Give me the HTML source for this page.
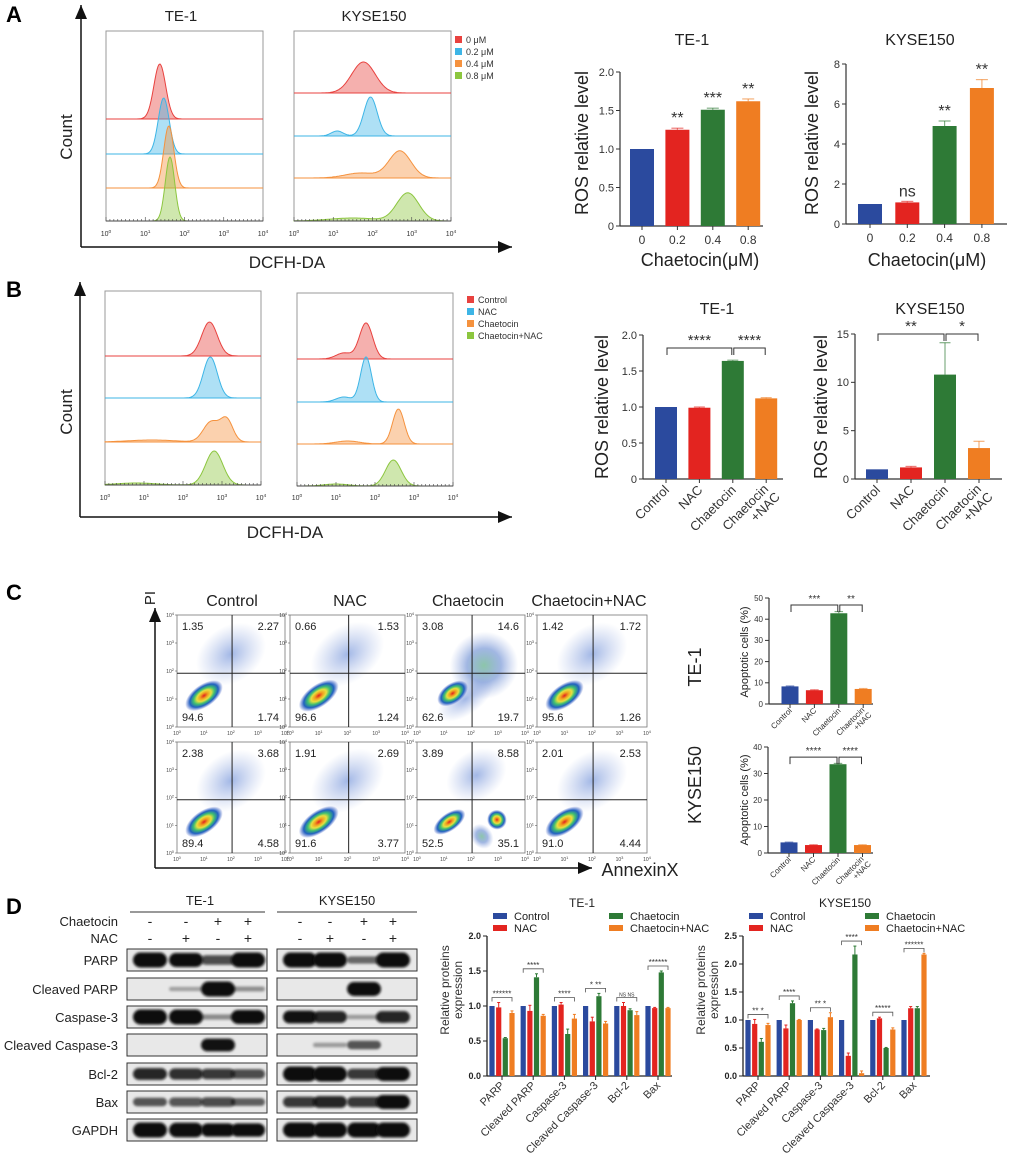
<!DOCTYPE html>
<html><head><meta charset="utf-8">
<style>
html,body{margin:0;padding:0;background:#fff;}
svg{display:block;font-family:"Liberation Sans",Arial,sans-serif;}
</style></head>
<body>
<svg id="fig" width="1020" height="1160" viewBox="0 0 1020 1160" xmlns="http://www.w3.org/2000/svg">
<defs>
<filter id="blur2" x="-20%" y="-50%" width="140%" height="200%"><feGaussianBlur stdDeviation="2"/></filter>
<filter id="blur1" x="-20%" y="-50%" width="140%" height="200%"><feGaussianBlur stdDeviation="1.2"/></filter>
<radialGradient id="dens" cx="50%" cy="50%" r="50%">
<stop offset="0" stop-color="#e02020"/><stop offset="0.2" stop-color="#f0a020"/><stop offset="0.38" stop-color="#e8e040"/><stop offset="0.55" stop-color="#40c070"/><stop offset="0.75" stop-color="#2060c0"/><stop offset="1" stop-color="#3050c0" stop-opacity="0"/>
</radialGradient>
<radialGradient id="cloud" cx="50%" cy="50%" r="50%">
<stop offset="0" stop-color="#3060c8" stop-opacity="0.45"/><stop offset="1" stop-color="#6080d0" stop-opacity="0"/>
</radialGradient>
<radialGradient id="cloudg" cx="50%" cy="50%" r="50%">
<stop offset="0" stop-color="#40a070" stop-opacity="0.6"/><stop offset="0.5" stop-color="#2f5fc0" stop-opacity="0.45"/><stop offset="1" stop-color="#6080d0" stop-opacity="0"/>
</radialGradient>
</defs>
</svg>
<script>
// ---------------- DATA ----------------
const aConc = ['0','0.2','0.4','0.8'];
const aTe1Vals = [1.0, 1.25, 1.51, 1.62];
const aTe1Errs = [0, 0.02, 0.02, 0.03];
const aTe1Sig = ['', '**', '***', '**'];
const aKyVals = [1.0, 1.08, 4.9, 6.8];
const aKyErrs = [0, 0.05, 0.25, 0.42];
const aKySig = ['', 'ns', '**', '**'];

const bCats = ['Control','NAC','Chaetocin','Chaetocin|+NAC'];
const bTe1Vals = [1.0, 0.99, 1.64, 1.12];
const bTe1Errs = [0, 0.01, 0.01, 0.01];
const bKyVals = [1.0, 1.2, 10.8, 3.2];
const bKyErrs = [0, 0.1, 3.3, 0.7];

const cTe1Vals = [8.3, 6.5, 42.8, 7.1];
const cTe1Errs = [0.2, 0.2, 0.8, 0.2];
const cKyVals = [4.0, 3.0, 33.5, 3.0];
const cKyErrs = [0.1, 0.1, 0.3, 0.1];

const dProteins = ['PARP','Cleaved PARP','Caspase-3','Cleaved Caspase-3','Bcl-2','Bax'];
const dSeries = ['Control','NAC','Chaetocin','Chaetocin+NAC'];
const dTe1Control = [1,1,1,1,1,1];
const dTe1Nac = [0.98,0.93,1.02,0.78,1.0,0.97];
const dTe1Chaet = [0.54,1.41,0.6,1.14,0.94,1.48];
const dTe1ChNac = [0.9,0.86,0.82,0.75,0.87,0.97];
const dTe1Errs = [[0,0,0,0,0,0],[0.07,0.08,0.03,0.06,0.05,0.01],[0.01,0.05,0.07,0.04,0.02,0.02],[0.03,0.02,0.06,0.03,0.05,0.01]];
const dTe1Sig = ['******','****','****','* **','NS NS','******'];
const dKyControl = [1,1,1,1,1,1];
const dKyNac = [0.93,0.85,0.83,0.36,1.03,1.21];
const dKyChaet = [0.61,1.3,0.82,2.17,0.5,1.21];
const dKyChNac = [0.91,1.0,1.05,0.05,0.83,2.17];
const dKyErrs = [[0,0,0,0,0,0],[0.08,0.06,0.01,0.05,0.02,0.03],[0.06,0.04,0.03,0.15,0.01,0.03],[0.03,0.01,0.08,0.04,0.03,0.02]];
const dKySig = ['** *','****','** *','****','*****','******'];

const aTe1Peaks = [[[1.37,0.15,55]],[[1.47,0.14,56]],[[1.6,0.13,62]],[[1.63,0.12,64]]];
const aKyPeaks = [[[1.77,0.3,31]],[[1.95,0.17,39],[1.1,0.15,5]],[[2.7,0.28,27],[1.7,0.4,5]],[[2.9,0.28,28],[1.5,0.6,3]]];
const bTe1Peaks = [[[2.68,0.2,34]],[[2.7,0.18,41]],[[2.72,0.2,20],[3.12,0.16,22],[1.2,0.6,2]],[[2.8,0.22,34],[0.8,0.5,2]]];
const bKyPeaks = [[[1.77,0.17,36],[1.2,0.2,6]],[[1.77,0.14,45],[1.2,0.2,5]],[[2.6,0.15,35],[1.3,0.3,3]],[[2.47,0.2,26],[1.0,0.3,2]]];

const cQuadTe1 = [['1.35','2.27','94.6','1.74'],['0.66','1.53','96.6','1.24'],['3.08','14.6','62.6','19.7'],['1.42','1.72','95.6','1.26']];
const cQuadKy = [['2.38','3.68','89.4','4.58'],['1.91','2.69','91.6','3.77'],['3.89','8.58','52.5','35.1'],['2.01','2.53','91.0','4.44']];
const cConds = ['Control','NAC','Chaetocin','Chaetocin+NAC'];

const wbProteins = ['PARP','Cleaved PARP','Caspase-3','Cleaved Caspase-3','Bcl-2','Bax','GAPDH'];
const wbTe1 = [[1,0.9,0.5,1],[0,0.02,1,0.1],[1,1,0.12,0.9],[0,0,0.8,0],[0.7,0.65,0.6,0.5],[0.4,0.45,0.5,0.35],[1,0.95,0.85,0.85]];
const wbKy = [[1,1,0.3,1],[0,0,0.9,0],[0.8,0.7,0.04,0.7],[0,0.05,0.4,0],[1,1,0.6,0.9],[0.6,0.7,0.6,0.9],[1,1,1,1]];
const wbChaet = ['-','-','+','+'];
const wbNac = ['-','+','-','+'];

// ---------------- HELPERS ----------------
const NS='http://www.w3.org/2000/svg';
const svg=document.getElementById('fig');
function mk(tag,attrs,parent){const e=document.createElementNS(NS,tag);for(const k in attrs)e.setAttribute(k,attrs[k]);(parent||svg).appendChild(e);return e;}
function txt(s,x,y,size,anchor,extra,parent){const e=mk('text',Object.assign({x:x,y:y,'font-size':size,'text-anchor':anchor||'middle',fill:'#222'},extra||{}),parent);e.textContent=s;return e;}
function grp(name){const g=mk('g',{});


return g;}
const BAR4=['#2b4a9e','#e32420','#2e7a36','#ef7d22'];
const HIST4=['#e8423f','#3db5e6','#f5923e','#8cc63f'];

[['A',6,22],['B',6,297],['C',6,600],['D',6,914]].forEach(p=>{
  const t=txt(p[0],p[1],p[2],22,'start',{'font-weight':'bold',fill:'#000'});
  
  
});

function arrow(x1,y1,x2,y2,name){
  const g=grp(name);
  mk('line',{x1:x1,y1:y1,x2:x2,y2:y2,stroke:'#111','stroke-width':1.5},g);
  const ang=Math.atan2(y2-y1,x2-x1), L=14, W=6;
  const bx=x2-L*Math.cos(ang), by=y2-L*Math.sin(ang);
  const px=-Math.sin(ang)*W, py=Math.cos(ang)*W;
  mk('polygon',{points:`${x2},${y2} ${bx+px},${by+py} ${bx-px},${by-py}`,fill:'#111'},g);
}

function logTicks(g,left,w,y,size){
  for(let k=0;k<=4;k++){
    const x=left+k*w/4;
    const t=txt('10',x,y,size,'middle',{fill:'#333'},g);
    const s=mk('tspan',{dy:-size*0.4,'font-size':size*0.7},t); s.textContent=k;
  }
}

function histPanel(name,left,top,w,bottom,baselines,peaks,tickY){
  const g=grp(name);
  mk('rect',{x:left,y:top,width:w,height:bottom-top,fill:'none',stroke:'#999','stroke-width':1},g);
  peaks.forEach((pk,i)=>{
    const base=baselines[i];
    let d=`M${left},${base}`;
    for(let px=0;px<=w;px+=1){
      const lv=px/w*4; let h=0;
      pk.forEach(p=>{h+=p[2]*Math.exp(-0.5*Math.pow((lv-p[0])/p[1],2));});
      d+=` L${left+px},${(base-h).toFixed(1)}`;
    }
    d+=` L${left+w},${base} Z`;
    const path=mk('path',{d:d,fill:HIST4[i],'fill-opacity':0.42,stroke:HIST4[i],'stroke-width':1},g);
    
    
  });
  for(let k=0;k<=40;k++){const x=left+k*w/40;mk('line',{x1:x,y1:bottom,x2:x,y2:bottom-(k%10==0?4:2),stroke:'#444','stroke-width':0.6},g);}
  mk('line',{x1:left,y1:bottom,x2:left+w,y2:bottom,stroke:'#444','stroke-width':1},g);
  logTicks(g,left,w,tickY,7);
}

function legend(name,x,y0,dy,labels){
  const g=grp(name);
  labels.forEach((l,i)=>{
    mk('rect',{x:x,y:y0+i*dy-8,width:7,height:7,fill:HIST4[i]},g);
    txt(l,x+11,y0+i*dy-1,9,'start',{fill:'#333'},g);
  });
}

function barChart(o){
  const g=grp(o.name);
  const ys=v=>o.y0-(v/o.max)*(o.y0-o.yTop);
  const xs=i=>o.first+i*o.step;
  mk('line',{x1:o.axX,y1:o.yTop,x2:o.axX,y2:o.y0,stroke:'#333','stroke-width':1.2},g);
  mk('line',{x1:o.axX,y1:o.y0,x2:o.axEnd,y2:o.y0,stroke:'#333','stroke-width':1.2},g);
  o.ticks.forEach((t,k)=>{
    const y=ys(t);
    mk('line',{x1:o.axX-4,y1:y,x2:o.axX,y2:y,stroke:'#333'},g);
    txt(o.tickLabels[k],o.axX-6,y+o.tsize*0.35,o.tsize,'end',{fill:'#333'},g);
  });
  o.vals.forEach((v,i)=>{
    const x=xs(i);
    const r=mk('rect',{x:x-o.bw/2,y:ys(v),width:o.bw,height:o.y0-ys(v),fill:o.colors[i]},g);
    
    
    const e=o.errs[i];
    if(e>0){
      mk('line',{x1:x,y1:ys(v),x2:x,y2:ys(v+e),stroke:o.colors[i],'stroke-width':1.2,'stroke-opacity':0.6},g);
      mk('line',{x1:x-o.bw/4,y1:ys(v+e),x2:x+o.bw/4,y2:ys(v+e),stroke:o.colors[i],'stroke-width':1.2,'stroke-opacity':0.6},g);
    }
    if(o.sig&&o.sig[i]) txt(o.sig[i],x,ys(v+e)-5,o.sigSize,'middle',{fill:'#333'},g);
    mk('line',{x1:x,y1:o.y0,x2:x,y2:o.y0+4,stroke:'#333'},g);
    if(o.catMode==='straight') txt(o.cats[i],x,o.y0+o.csize+6,o.csize,'middle',{fill:'#333'},g);
    else{
      const parts=o.cats[i].split('|');
      const tx=x+o.csize*0.3, ty=o.y0+o.csize*0.9;
      const t=mk('text',{x:tx,y:ty,'font-size':o.csize,'text-anchor':'end',fill:'#333',transform:`rotate(-45 ${tx} ${ty})`},g);
      parts.forEach((p,k)=>{const s=mk('tspan',{x:tx,dy:k==0?(parts.length>1?-o.csize*0.1:0):o.csize*1.05},t);s.textContent=p;});
      if(parts.length>1){t.childNodes[1].setAttribute('x',tx+o.csize*0.2);}
    }
  });
  (o.brackets||[]).forEach(b=>{
    const y=ys(b[2]), x1=xs(b[0]), x2=xs(b[1]);
    mk('path',{d:`M${x1+1},${y+7} V${y} H${x2-1} V${y+7}`,fill:'none',stroke:'#333','stroke-width':1},g);
    txt(b[3],(x1+x2)/2,y-3,o.sigSize,'middle',{fill:'#333'},g);
  });
  return g;
}

// ---------------- PANEL A ----------------
arrow(81,247,81,5,'y-arrow-a');
arrow(81,247,512,247,'x-arrow-a');
{const t=txt('Count',72,137,17,'middle',{transform:'rotate(-90 72 137)'});}
{const t=txt('DCFH-DA',287,268,17);}
{const t=txt('TE-1',181,21,15);}
{const t=txt('KYSE150',374,21,15);}
histPanel('hist-te1-a',106,31,157,221,[119,154,188,221],aTe1Peaks,236);
histPanel('hist-kyse-a',294,31,157,221,[93,136,178,221],aKyPeaks,236);
legend('legend-a',455,44,12,['0 μM','0.2 μM','0.4 μM','0.8 μM']);

barChart({name:'ros-te1-a',axX:620,y0:226,yTop:72,max:2,ticks:[0,0.5,1,1.5,2],tickLabels:['0','0.5','1.0','1.5','2.0'],tsize:11,
  first:642,step:35.4,bw:24,axEnd:763,vals:aTe1Vals,errs:aTe1Errs,colors:BAR4,cats:aConc,catMode:'straight',csize:12,sig:aTe1Sig,sigSize:16});
barChart({name:'ros-kyse-a',axX:846,y0:224,yTop:64,max:8,ticks:[0,2,4,6,8],tickLabels:['0','2','4','6','8'],tsize:11,
  first:870,step:37.3,bw:24,axEnd:1007,vals:aKyVals,errs:aKyErrs,colors:BAR4,cats:aConc,catMode:'straight',csize:12,sig:aKySig,sigSize:16});
[['TE-1',692,45],['KYSE150',920,45]].forEach(p=>{const t=txt(p[0],p[1],p[2],16);});
[['Chaetocin(μM)',700,266],['Chaetocin(μM)',927,266]].forEach(p=>{const t=txt(p[0],p[1],p[2],18);});
[[588,143],[818,143]].forEach(p=>{const t=txt('ROS relative level',p[0],p[1],18,'middle',{transform:`rotate(-90 ${p[0]} ${p[1]})`});});

// ---------------- PANEL B ----------------
arrow(80,517,80,282,'y-arrow-b');
arrow(80,517,512,517,'x-arrow-b');
{const t=txt('Count',72,412,17,'middle',{transform:'rotate(-90 72 412)'});}
{const t=txt('DCFH-DA',285,538,17);}
histPanel('hist-te1-b',105,291,156,485,[356,398,442,485],bTe1Peaks,500);
histPanel('hist-kyse-b',297,293,156,486,[359,402,444,486],bKyPeaks,500);
legend('legend-b',467,304,12,['Control','NAC','Chaetocin','Chaetocin+NAC']);

barChart({name:'ros-te1-b',axX:643,y0:479,yTop:335,max:2,ticks:[0,0.5,1,1.5,2],tickLabels:['0','0.5','1.0','1.5','2.0'],tsize:11,
  first:666,step:33.4,bw:22,axEnd:783,vals:bTe1Vals,errs:bTe1Errs,colors:BAR4,cats:bCats,catMode:'rot',csize:13,sigSize:15,
  brackets:[[0,2,1.82,'****'],[2,3,1.82,'****']]});
barChart({name:'ros-kyse-b',axX:855,y0:479,yTop:334,max:15,ticks:[0,5,10,15],tickLabels:['0','5','10','15'],tsize:11,
  first:877,step:34,bw:22,axEnd:1002,vals:bKyVals,errs:bKyErrs,colors:BAR4,cats:bCats,catMode:'rot',csize:13,sigSize:15,
  brackets:[[0,2,15,'**'],[2,3,15,'*']]});
[['TE-1',717,314],['KYSE150',930,314]].forEach(p=>{const t=txt(p[0],p[1],p[2],16);});
[[608,407],[827,407]].forEach(p=>{const t=txt('ROS relative level',p[0],p[1],18,'middle',{transform:`rotate(-90 ${p[0]} ${p[1]})`});});

// ---------------- PANEL C ----------------
arrow(155,868,155,608,'pi-arrow');
arrow(155,868,592,868,'annexin-arrow');
{const t=txt('PI',155,598,15,'middle',{transform:'rotate(-90 155 598)'});}
{const t=txt('AnnexinX',640,876,18);}
const cColX=[177,290,417,537], cColW=[108,115,108,110], cRowY=[615,742], cRowH=[112,111];
const cTitleX=[232,350,468,589];
cConds.forEach((c,i)=>{const t=txt(c,cTitleX[i],606,16);});
const blobsNormal=[[0.5,0.35,0.35,0.25,'cloud'],[0.25,0.72,0.2,0.1,'dens']];
const blobsChTe=[[0.62,0.45,0.32,0.3,'cloudg'],[0.45,0.75,0.3,0.14,'cloud'],[0.33,0.7,0.16,0.09,'dens']];
const blobsChKy=[[0.55,0.3,0.3,0.22,'cloud'],[0.6,0.85,0.1,0.12,'cloudg'],[0.3,0.72,0.17,0.08,'dens'],[0.74,0.7,0.09,0.09,'dens']];
function scatterPlot(name,x,y,w,h,quads,blobs){
  const g=grp(name);
  mk('rect',{x:x,y:y,width:w,height:h,fill:'#fff',stroke:'#777','stroke-width':0.8},g);
  const clip=mk('clipPath',{id:'clip-'+name},g); mk('rect',{x:x,y:y,width:w,height:h},clip);
  const inner=mk('g',{'clip-path':`url(#clip-${name})`},g);
  blobs.forEach(b=>{
    const cx=x+b[0]*w, cy=y+b[1]*h;
    mk('ellipse',{cx:cx,cy:cy,rx:b[2]*w,ry:b[3]*h,fill:`url(#${b[4]})`,transform:`rotate(-35 ${cx} ${cy})`},inner);
  });
  const vx=x+0.51*w, hy=y+0.52*h;
  mk('line',{x1:vx,y1:y,x2:vx,y2:y+h,stroke:'#222','stroke-width':1},g);
  mk('line',{x1:x,y1:hy,x2:x+w,y2:hy,stroke:'#222','stroke-width':1},g);
  txt(quads[0],x+5,y+15,11,'start',{},g);
  txt(quads[1],x+w-6,y+15,11,'end',{},g);
  txt(quads[2],x+5,y+h-6,11,'start',{},g);
  txt(quads[3],x+w-6,y+h-6,11,'end',{},g);
  for(let k=0;k<=4;k++){
    const ty=y+h-k*h/4;
    const t=txt('10',x-3,ty+2,5,'end',{fill:'#444'},g); const s=mk('tspan',{dy:-2,'font-size':4},t); s.textContent=k;
    mk('line',{x1:x-2,y1:ty,x2:x,y2:ty,stroke:'#444','stroke-width':0.5},g);
  }
  for(let k=0;k<=4;k++){
    const tx=x+k*w/4;
    const t=txt('10',tx,y+h+8,5,'middle',{fill:'#444'},g); const s=mk('tspan',{dy:-2,'font-size':4},t); s.textContent=k;
  }
}
[cQuadTe1,cQuadKy].forEach((rowQ,r)=>{
  rowQ.forEach((q,i)=>{
    const bl = i===2 ? (r===0?blobsChTe:blobsChKy) : blobsNormal;
    scatterPlot('facs-'+(r===0?'te1':'kyse')+'-'+i,cColX[i],cRowY[r],cColW[i],cRowH[r],q,bl);
  });
});
{const t=txt('TE-1',701,667,18,'middle',{transform:'rotate(-90 701 667)'});}
{const t=txt('KYSE150',701,785,18,'middle',{transform:'rotate(-90 701 785)'});}
const cCats=['Control','NAC','Chaetocin','Chaetocin|+NAC'];
barChart({name:'apoptosis-te1',axX:769,y0:704,yTop:598,max:50,ticks:[0,10,20,30,40,50],tickLabels:['0','10','20','30','40','50'],tsize:8,
  first:790,step:24.4,bw:17,axEnd:873,vals:cTe1Vals,errs:cTe1Errs,colors:BAR4,cats:cCats,catMode:'rot',csize:8,sigSize:10,
  brackets:[[0,2,46.7,'***'],[2,3,46.7,'**']]});
barChart({name:'apoptosis-kyse',axX:768,y0:853,yTop:747,max:40,ticks:[0,10,20,30,40],tickLabels:['0','10','20','30','40'],tsize:8,
  first:789,step:24.5,bw:17,axEnd:873,vals:cKyVals,errs:cKyErrs,colors:BAR4,cats:cCats,catMode:'rot',csize:8,sigSize:10,
  brackets:[[0,2,36.2,'****'],[2,3,36.2,'****']]});
[[748,652],[748,800]].forEach(p=>{const t=txt('Apoptotic cells (%)',p[0],p[1],11,'middle',{transform:`rotate(-90 ${p[0]} ${p[1]})`});});

// ---------------- PANEL D: western blot ----------------
{
  const g=grp('western-blot');
  const lanesTe=[150,186,218,248], lanesKy=[300,330,364,393];
  const rowsY=[949,978,1006,1034,1063,1091,1119];
  txt('TE-1',200,905,13,'middle',{},g); mk('line',{x1:130,y1:912,x2:265,y2:912,stroke:'#333'},g);
  txt('KYSE150',347,905,13,'middle',{},g); mk('line',{x1:277,y1:912,x2:417,y2:912,stroke:'#333'},g);
  txt('Chaetocin',118,926,13,'end',{},g); txt('NAC',118,943,13,'end',{},g);
  [lanesTe,lanesKy].forEach(L=>L.forEach((x,i)=>{txt(wbChaet[i],x,926,14,'middle',{},g);txt(wbNac[i],x,943,14,'middle',{},g);}));
  wbProteins.forEach((p,r)=>{
    const y=rowsY[r];
    const lbl=txt(p,118,y+16,13,'end',{},g);
    
    
    [[127,lanesTe,wbTe1],[277,lanesKy,wbKy]].forEach(B=>{
      mk('rect',{x:B[0],y:y,width:140,height:22,fill:'#e8e8e8',stroke:'#333','stroke-width':1},g);
      B[1].forEach((x,i)=>{
        const v=B[2][r][i]; if(v<=0) return;
        const h=4+11*v;
        const band=mk('rect',{x:x-17,y:y+11-h/2,width:34,height:h,rx:h/2,fill:'#0a0a0a','fill-opacity':Math.min(1,0.3+0.85*v),filter:'url(#blur1)'},g);
        
        
      });
    });
  });
}

// ---------------- PANEL D: grouped bars ----------------
function groupChart(o){
  const g=grp(o.name);
  const ys=v=>o.y0-(v/o.max)*(o.y0-o.yTop);
  const gx=i=>o.first+i*o.step;
  const offs=[-10,-3.3,3.3,10];
  mk('line',{x1:o.axX,y1:o.yTop,x2:o.axX,y2:o.y0,stroke:'#222','stroke-width':1.3},g);
  mk('line',{x1:o.axX,y1:o.y0,x2:o.axEnd,y2:o.y0,stroke:'#222','stroke-width':1.3},g);
  o.ticks.forEach(t=>{const y=ys(t);mk('line',{x1:o.axX-4,y1:y,x2:o.axX,y2:y,stroke:'#222'},g);txt(t.toFixed(1),o.axX-6,y+3,9,'end',{'font-weight':'bold',fill:'#222'},g);});
  o.series.forEach((s,k)=>{
    s.forEach((v,i)=>{
      const x=gx(i)+offs[k];
      const r=mk('rect',{x:x-2.6,y:ys(v),width:5.2,height:o.y0-ys(v),fill:BAR4[k]},g);
      
      
      const e=o.errs[k][i];
      if(e>0){mk('line',{x1:x,y1:ys(v),x2:x,y2:ys(v+e),stroke:BAR4[k],'stroke-width':1},g);mk('line',{x1:x-1.5,y1:ys(v+e),x2:x+1.5,y2:ys(v+e),stroke:BAR4[k],'stroke-width':1},g);}
    });
  });
  o.cats.forEach((c,i)=>{
    const x=gx(i);
    mk('line',{x1:x,y1:o.y0,x2:x,y2:o.y0+4,stroke:'#222'},g);
    const tx=x+3, ty=o.y0+10;
    txt(c,tx,ty,11,'end',{transform:`rotate(-45 ${tx} ${ty})`,fill:'#333'},g);
    let m=0; o.series.forEach((s,k)=>{m=Math.max(m,s[i]+o.errs[k][i]);});
    const by=ys(m)-5;
    mk('path',{d:`M${x-10},${by+4} V${by} H${x+10} V${by+4}`,fill:'none',stroke:'#555','stroke-width':0.8},g);
    txt(o.sig[i],x,by-1,o.sig[i]==='NS NS'?5:8,'middle',{fill:'#333'},g);
  });
  dSeries.forEach((s,k)=>{
    const lx=o.legX[k>1?1:0], ly=o.legY[k%2];
    mk('rect',{x:lx,y:ly-4,width:14,height:6,fill:BAR4[k]},g);
    txt(s,lx+21,ly+3,11,'start',{fill:'#222'},g);
  });
  txt(o.title,o.titleX,907,12,'middle',{fill:'#222'},g);
  const yl=mk('text',{x:0,y:0,'font-size':12,'text-anchor':'middle',fill:'#333',transform:`translate(${o.ylabX} 990) rotate(-90)`},g);
  const s1=mk('tspan',{x:0,dy:0},yl); s1.textContent='Relative proteins';
  const s2=mk('tspan',{x:0,dy:13},yl); s2.textContent='expression';
}
groupChart({name:'protein-te1',axX:487,y0:1076,yTop:936,max:2,ticks:[0,0.5,1,1.5,2],first:502,step:31.2,axEnd:672,
  series:[dTe1Control,dTe1Nac,dTe1Chaet,dTe1ChNac],errs:dTe1Errs,cats:dProteins,sig:dTe1Sig,
  legX:[493,609],legY:[917,929],title:'TE-1',titleX:582,ylabX:449});
groupChart({name:'protein-kyse',axX:743,y0:1076,yTop:936,max:2.5,ticks:[0,0.5,1,1.5,2,2.5],first:758,step:31.2,axEnd:930,
  series:[dKyControl,dKyNac,dKyChaet,dKyChNac],errs:dKyErrs,cats:dProteins,sig:dKySig,
  legX:[749,865],legY:[917,929],title:'KYSE150',titleX:845,ylabX:705});
</script>
</body></html>
